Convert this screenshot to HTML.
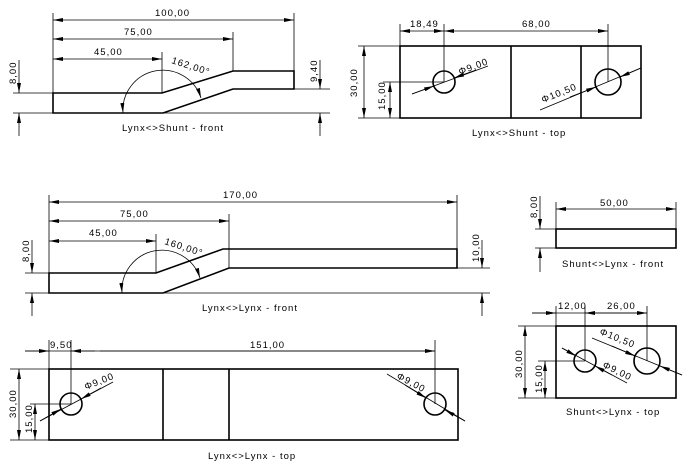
<!DOCTYPE html>
<html><head><meta charset="utf-8"><style>
html,body{margin:0;padding:0;background:#fff;}
svg{display:block;}
text{font-family:"Liberation Sans",sans-serif;font-size:9.5px;fill:#000;letter-spacing:1px;}
</style></head><body>
<svg width="690" height="466" viewBox="0 0 690 466" xmlns="http://www.w3.org/2000/svg">
<defs>
<marker id="a" viewBox="0 0 10 4" refX="10" refY="2" markerWidth="10" markerHeight="4" markerUnits="userSpaceOnUse" orient="auto-start-reverse"><path d="M0,0 L10,2 L0,4 Z" fill="#000"/></marker>
</defs>
<g stroke="#000" fill="none">
<path d="M53,93 L162,93 L233,71 L294,71 L294,89 L233,89 L163,113 L53,113 Z" stroke-width="1.6"/>
<g stroke-width="0.8">
<line x1="53" y1="13" x2="53" y2="93"/>
<line x1="294" y1="13" x2="294" y2="71"/>
<line x1="233" y1="32" x2="233" y2="71"/>
<line x1="162" y1="52" x2="162" y2="93"/>
<line x1="53" y1="20" x2="294" y2="20" marker-start="url(#a)" marker-end="url(#a)"/>
<line x1="53" y1="39" x2="233" y2="39" marker-start="url(#a)" marker-end="url(#a)"/>
<line x1="53" y1="59" x2="162" y2="59" marker-start="url(#a)" marker-end="url(#a)"/>
<line x1="13" y1="93" x2="53" y2="93"/>
<line x1="13" y1="113" x2="330" y2="113"/>
<line x1="294" y1="89" x2="330" y2="89"/>
<line x1="19" y1="60" x2="19" y2="93" marker-end="url(#a)"/>
<line x1="19" y1="136" x2="19" y2="113" marker-end="url(#a)"/>
<line x1="320" y1="60" x2="320" y2="89" marker-end="url(#a)"/>
<line x1="320" y1="136" x2="320" y2="113" marker-end="url(#a)"/>
<path d="M123,113 A40,40 0 0 1 201,98" marker-start="url(#a)" marker-end="url(#a)"/>
</g>
<rect x="400" y="46" width="241" height="72" stroke-width="1.6"/>
<line x1="511" y1="46" x2="511" y2="118" stroke-width="1.6"/>
<line x1="581" y1="46" x2="581" y2="118" stroke-width="1.6"/>
<circle cx="444" cy="82" r="11" stroke-width="1.6"/>
<circle cx="608" cy="82" r="13" stroke-width="1.6"/>
<g stroke-width="0.8">
<line x1="400" y1="24" x2="400" y2="46"/>
<line x1="444" y1="24" x2="444" y2="82"/>
<line x1="608" y1="24" x2="608" y2="82"/>
<line x1="400" y1="31" x2="444" y2="31" marker-start="url(#a)" marker-end="url(#a)"/>
<line x1="444" y1="31" x2="608" y2="31" marker-start="url(#a)" marker-end="url(#a)"/>
<line x1="358" y1="46" x2="400" y2="46"/>
<line x1="358" y1="118" x2="400" y2="118"/>
<line x1="383" y1="82" x2="444" y2="82"/>
<line x1="364" y1="46" x2="364" y2="118" marker-start="url(#a)" marker-end="url(#a)"/>
<line x1="390" y1="82" x2="390" y2="118" marker-start="url(#a)" marker-end="url(#a)"/>
<line x1="412" y1="94" x2="488" y2="66"/>
<path d="M412,94 L434,86" marker-end="url(#a)"/>
<path d="M476,70 L454,78" marker-end="url(#a)"/>
<line x1="540" y1="110" x2="641" y2="68"/>
<path d="M570,97 L596,87" marker-end="url(#a)"/>
<path d="M641,68 L620,77" marker-end="url(#a)"/>
</g>
<path d="M49,273 L156,273 L223,249 L457,249 L457,268 L229,268 L163,293 L49,293 Z" stroke-width="1.6"/>
<g stroke-width="0.8">
<line x1="49" y1="195" x2="49" y2="273"/>
<line x1="457" y1="195" x2="457" y2="249"/>
<line x1="229" y1="214" x2="229" y2="268"/>
<line x1="156" y1="234" x2="156" y2="273"/>
<line x1="49" y1="202" x2="457" y2="202" marker-start="url(#a)" marker-end="url(#a)"/>
<line x1="49" y1="221" x2="229" y2="221" marker-start="url(#a)" marker-end="url(#a)"/>
<line x1="49" y1="241" x2="156" y2="241" marker-start="url(#a)" marker-end="url(#a)"/>
<line x1="25" y1="273" x2="49" y2="273"/>
<line x1="25" y1="293" x2="490" y2="293"/>
<line x1="457" y1="268" x2="490" y2="268"/>
<line x1="32" y1="240" x2="32" y2="273" marker-end="url(#a)"/>
<line x1="32" y1="316" x2="32" y2="293" marker-end="url(#a)"/>
<line x1="482" y1="240" x2="482" y2="268" marker-end="url(#a)"/>
<line x1="482" y1="316" x2="482" y2="293" marker-end="url(#a)"/>
<path d="M122,293 A40,40 0 0 1 200,278" marker-start="url(#a)" marker-end="url(#a)"/>
</g>
<rect x="49" y="369" width="409" height="71" stroke-width="1.6"/>
<line x1="163" y1="369" x2="163" y2="440" stroke-width="1.6"/>
<line x1="229" y1="369" x2="229" y2="440" stroke-width="1.6"/>
<circle cx="71" cy="404" r="11" stroke-width="1.6"/>
<circle cx="435" cy="404" r="11" stroke-width="1.6"/>
<g stroke-width="0.8">
<line x1="49" y1="340" x2="49" y2="369"/>
<line x1="71" y1="340" x2="71" y2="404"/>
<line x1="435" y1="340" x2="435" y2="404"/>
<line x1="25" y1="351" x2="435" y2="351"/>
<path d="M25,351 L49,351" marker-end="url(#a)"/>
<path d="M95,351 L71,351" marker-end="url(#a)"/>
<path d="M100,351 L435,351" marker-end="url(#a)"/>
<line x1="10" y1="369" x2="49" y2="369"/>
<line x1="10" y1="440" x2="49" y2="440"/>
<line x1="30" y1="404" x2="71" y2="404"/>
<line x1="19" y1="369" x2="19" y2="440" marker-start="url(#a)" marker-end="url(#a)"/>
<line x1="35" y1="404" x2="35" y2="440" marker-start="url(#a)" marker-end="url(#a)"/>
<line x1="40" y1="421" x2="113" y2="382"/>
<path d="M40,421 L61,409" marker-end="url(#a)"/>
<path d="M101,388 L81,399" marker-end="url(#a)"/>
<line x1="387" y1="374" x2="465" y2="421"/>
<path d="M405,385 L426,398" marker-end="url(#a)"/>
<path d="M465,421 L445,410" marker-end="url(#a)"/>
</g>
<rect x="556" y="229" width="120" height="19" stroke-width="1.6"/>
<g stroke-width="0.8">
<line x1="556" y1="202" x2="556" y2="229"/>
<line x1="676" y1="202" x2="676" y2="229"/>
<line x1="556" y1="209" x2="676" y2="209" marker-start="url(#a)" marker-end="url(#a)"/>
<line x1="535" y1="229" x2="556" y2="229"/>
<line x1="535" y1="248" x2="556" y2="248"/>
<line x1="540" y1="196" x2="540" y2="229" marker-end="url(#a)"/>
<line x1="540" y1="272" x2="540" y2="248" marker-end="url(#a)"/>
</g>
<rect x="556" y="326" width="120" height="72" stroke-width="1.6"/>
<circle cx="585" cy="361" r="11" stroke-width="1.6"/>
<circle cx="647" cy="361" r="13" stroke-width="1.6"/>
<g stroke-width="0.8">
<line x1="556" y1="306" x2="556" y2="326"/>
<line x1="585" y1="306" x2="585" y2="361"/>
<line x1="647" y1="306" x2="647" y2="361"/>
<line x1="532" y1="313" x2="647" y2="313"/>
<path d="M532,313 L556,313" marker-end="url(#a)"/>
<path d="M610,313 L585,313" marker-end="url(#a)"/>
<path d="M610,313 L647,313" marker-end="url(#a)"/>
<line x1="518" y1="326" x2="556" y2="326"/>
<line x1="518" y1="398" x2="556" y2="398"/>
<line x1="538" y1="361" x2="585" y2="361"/>
<line x1="525" y1="326" x2="525" y2="398" marker-start="url(#a)" marker-end="url(#a)"/>
<line x1="545" y1="361" x2="545" y2="398" marker-start="url(#a)" marker-end="url(#a)"/>
<line x1="562" y1="348" x2="627" y2="383"/>
<path d="M562,348 L576,356" marker-end="url(#a)"/>
<path d="M612,375 L595,366" marker-end="url(#a)"/>
<line x1="592" y1="338" x2="682" y2="375"/>
<path d="M612,346 L635,356" marker-end="url(#a)"/>
<path d="M682,375 L660,366" marker-end="url(#a)"/>
</g>
</g>
<text x="155" y="16">100,00</text>
<text x="124" y="35">75,00</text>
<text x="94" y="55">45,00</text>
<text x="171" y="63" transform="rotate(18 171 63)">162,00°</text>
<text x="16" y="84" transform="rotate(-90 16 84)">8,00</text>
<text x="317" y="82" transform="rotate(-90 317 82)">9,40</text>
<text x="122" y="131">Lynx&lt;&gt;Shunt - front</text>

<text x="410" y="27">18,49</text>
<text x="522" y="27">68,00</text>
<text x="357" y="97" transform="rotate(-90 357 97)">30,00</text>
<text x="385" y="110" transform="rotate(-90 385 110)">15,00</text>
<text x="460" y="75" transform="rotate(-21 460 75)">Φ9,00</text>
<text x="543" y="103" transform="rotate(-22 543 103)">Φ10,50</text>
<text x="472" y="136">Lynx&lt;&gt;Shunt - top</text>

<text x="223" y="198">170,00</text>
<text x="120" y="217">75,00</text>
<text x="89" y="236">45,00</text>
<text x="164" y="244" transform="rotate(18 164 244)">160,00°</text>
<text x="29" y="262" transform="rotate(-90 29 262)">8,00</text>
<text x="479" y="262" transform="rotate(-90 479 262)">10,00</text>
<text x="202" y="311">Lynx&lt;&gt;Lynx - front</text>

<text x="50" y="348">9,50</text>
<text x="250" y="348">151,00</text>
<text x="16" y="418" transform="rotate(-90 16 418)">30,00</text>
<text x="32" y="433" transform="rotate(-90 32 433)">15,00</text>
<text x="86" y="390" transform="rotate(-22 86 390)">Φ9,00</text>
<text x="396" y="378" transform="rotate(28 396 378)">Φ9,00</text>
<text x="208" y="459">Lynx&lt;&gt;Lynx - top</text>

<text x="600" y="206">50,00</text>
<text x="537" y="218" transform="rotate(-90 537 218)">8,00</text>
<text x="562" y="267">Shunt&lt;&gt;Lynx - front</text>

<text x="558" y="309">12,00</text>
<text x="607" y="309">26,00</text>
<text x="522" y="378" transform="rotate(-90 522 378)">30,00</text>
<text x="542" y="393" transform="rotate(-90 542 393)">15,00</text>
<text x="599" y="334" transform="rotate(22 599 334)">Φ10,50</text>
<text x="602" y="367" transform="rotate(26 602 367)">Φ9,00</text>
<text x="566" y="415">Shunt&lt;&gt;Lynx - top</text>
</svg>
</body></html>
